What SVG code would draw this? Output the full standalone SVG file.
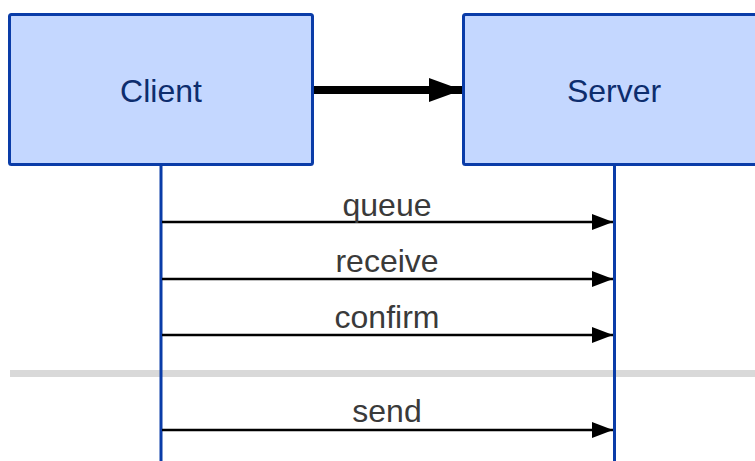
<svg xmlns="http://www.w3.org/2000/svg" width="755" height="461" viewBox="0 0 755 461">
<style>
.box{fill:#c4d7ff;stroke:#0a3ca8;stroke-width:3}
.life{stroke:#0a3ca8;stroke-width:3;fill:none}
.nlabel{font-family:"Liberation Sans",Arial,sans-serif;font-size:32px;fill:#0d2d6e;text-anchor:middle}
.mlabel{font-family:"Liberation Sans",Arial,sans-serif;font-size:32px;fill:#3a3a3a;text-anchor:middle}
.msg{stroke:#000;stroke-width:2.6;fill:none}
</style>
<defs>
<marker id="ah" markerUnits="userSpaceOnUse" markerWidth="22" markerHeight="16" refX="21" refY="8" orient="auto">
<path d="M0,0 L21,8 L0,16 Z" fill="#000"/>
</marker>
<marker id="bigah" markerUnits="userSpaceOnUse" markerWidth="34" markerHeight="24" refX="33" refY="12" orient="auto">
<path d="M0,0 L33,12 L0,24 Z" fill="#000"/>
</marker>
</defs>
<rect x="10" y="370" width="745" height="7" fill="#d9d9d9"/>
<g id="client">
<rect class="box" x="9.5" y="14.5" width="303" height="150" rx="2"/>
<text class="nlabel" x="161" y="102">Client</text>
<line class="life" x1="161" y1="165" x2="161" y2="461"/>
</g>
<g id="server">
<rect class="box" x="463.5" y="14.5" width="300" height="150" rx="2"/>
<text class="nlabel" x="614" y="102">Server</text>
<line class="life" x1="614.5" y1="165" x2="614.5" y2="461"/>
</g>
<g id="connectors">
<line x1="314" y1="90" x2="462" y2="90" stroke="#000" stroke-width="8" marker-end="url(#bigah)"/>
<line class="msg" x1="162" y1="222" x2="613" y2="222" marker-end="url(#ah)"/>
<line class="msg" x1="162" y1="279" x2="613" y2="279" marker-end="url(#ah)"/>
<line class="msg" x1="162" y1="335" x2="613" y2="335" marker-end="url(#ah)"/>
<line class="msg" x1="162" y1="430" x2="613" y2="430" marker-end="url(#ah)"/>
<text class="mlabel" x="387" y="216">queue</text>
<text class="mlabel" x="387" y="272">receive</text>
<text class="mlabel" x="387" y="328">confirm</text>
<text class="mlabel" x="387" y="422">send</text>
</g>
</svg>
